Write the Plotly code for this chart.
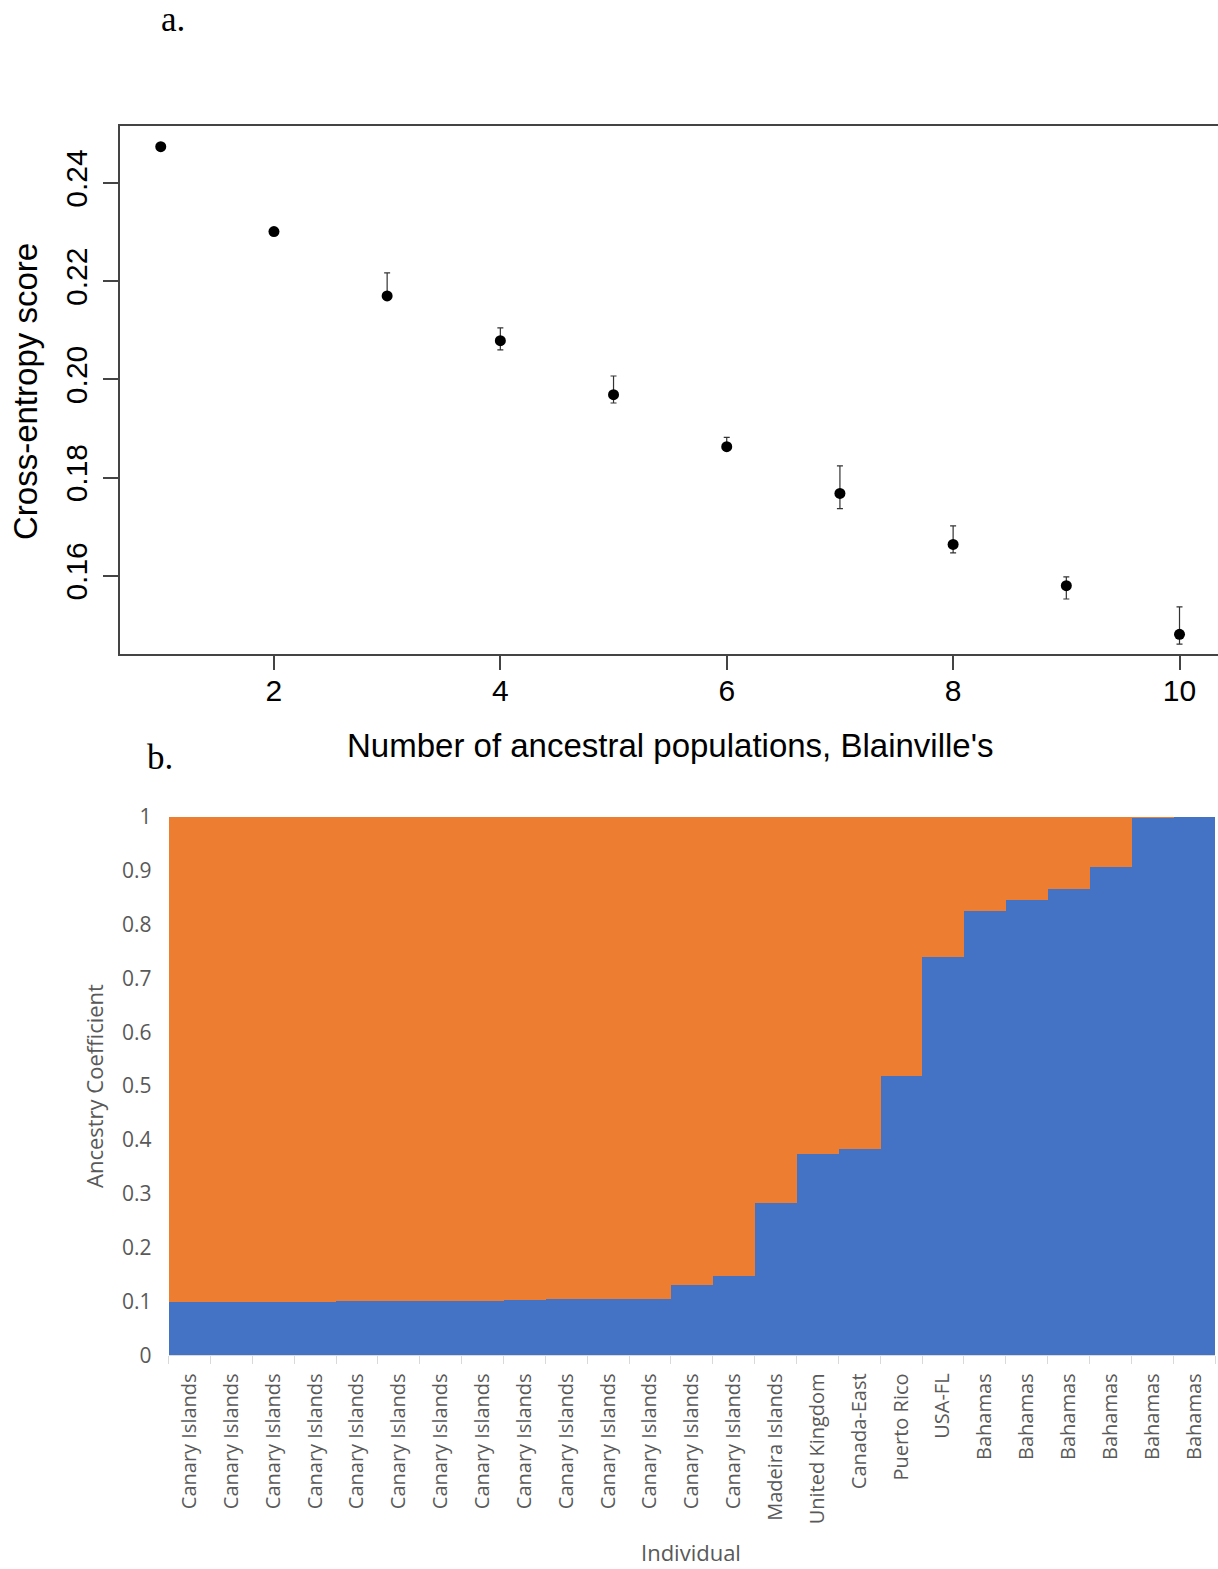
import plotly.graph_objects as go

# ---- Panel a: cross-entropy ----
k_values = [1, 2, 3, 4, 5, 6, 7, 8, 9, 10]
ce_mean = [0.2474, 0.2301, 0.2170, 0.2079, 0.1969, 0.1863, 0.1768, 0.1664, 0.1580, 0.1481]
ce_upper = [0.2474, 0.2301, 0.2217, 0.2105, 0.2007, 0.1882, 0.1824, 0.1702, 0.1598, 0.1537]
ce_lower = [0.2474, 0.2301, 0.2166, 0.2060, 0.1952, 0.1858, 0.1737, 0.1647, 0.1553, 0.1461]
y_ticks_a = [0.16, 0.18, 0.20, 0.22, 0.24]
x_ticks_a = [2, 4, 6, 8, 10]

# ---- Panel b: ancestry coefficients ----
individuals = ["Canary Islands"] * 14 + ["Madeira Islands", "United Kingdom", "Canada-East",
               "Puerto Rico", "USA-FL"] + ["Bahamas"] * 6
cluster_blue = [0.100, 0.100, 0.100, 0.100, 0.101, 0.102, 0.102, 0.102, 0.104, 0.106,
                0.106, 0.106, 0.131, 0.148, 0.284, 0.375, 0.383, 0.519, 0.740, 0.826,
                0.846, 0.866, 0.908, 0.999, 1.000]
cluster_orange = [0.900, 0.900, 0.900, 0.900, 0.899, 0.898, 0.898, 0.898, 0.896, 0.894,
                  0.894, 0.894, 0.869, 0.852, 0.716, 0.625, 0.617, 0.481, 0.260, 0.174,
                  0.154, 0.134, 0.092, 0.001, 0.000]
y_ticks_b = [0, 0.1, 0.2, 0.3, 0.4, 0.5, 0.6, 0.7, 0.8, 0.9, 1]
y_ticktext_b = ["0", "0.1", "0.2", "0.3", "0.4", "0.5", "0.6", "0.7", "0.8", "0.9", "1"]

W, H = 1218, 1569
positions = list(range(1, len(individuals) + 1))


def px(x, y):
    return x / W, (H - y) / H


fig = go.Figure()

fig.add_trace(go.Scatter(
    x=k_values, y=ce_mean, mode="markers",
    marker=dict(color="black", size=11),
    error_y=dict(type="data", symmetric=False,
                 array=[u - m for u, m in zip(ce_upper, ce_mean)],
                 arrayminus=[m - l for m, l in zip(ce_mean, ce_lower)],
                 color="#333333", thickness=1.2, width=3),
    xaxis="x", yaxis="y", showlegend=False, hoverinfo="skip"))

fig.add_trace(go.Bar(x=positions, y=cluster_blue, marker=dict(color="#4472C4", line=dict(width=0)),
                     xaxis="x2", yaxis="y2", showlegend=False))
fig.add_trace(go.Bar(x=positions, y=cluster_orange, marker=dict(color="#ED7D31", line=dict(width=0)),
                     xaxis="x2", yaxis="y2", showlegend=False))

top_font = dict(family="Liberation Sans, Arial, sans-serif", size=30, color="black")
grey = "#595959"

annots = []


def add_text(text, x, y, font, angle=0):
    fx, fy = px(x, y)
    annots.append(dict(text=text, x=fx, y=fy, xref="paper", yref="paper", showarrow=False,
                       textangle=angle, font=font, xanchor="center", yanchor="middle"))


serif = dict(family="Liberation Serif, Times New Roman, serif", size=35, color="black")
title_a = dict(family="Liberation Sans, Arial, sans-serif", size=33, color="black")
title_b = dict(family="Open Sans, sans-serif", size=22, color=grey)

add_text("a.", 173, 20, serif)
add_text("b.", 160, 757, serif)
add_text("Cross-entropy score", 25, 392, title_a, -90)
add_text("Number of ancestral populations, Blainville's", 670, 745, title_a)
add_text("Ancestry Coefficient", 94, 1086, title_b, -90)
add_text("Individual", 691, 1552, title_b)

fig.update_layout(
    width=W, height=H,
    margin=dict(l=0, r=0, t=0, b=0),
    paper_bgcolor="white", plot_bgcolor="white",
    barmode="stack", bargap=0,
    xaxis=dict(domain=[120 / W, 1.0], range=[0.64, 10.34], anchor="y",
               tickmode="array", tickvals=x_ticks_a, ticktext=[str(v) for v in x_ticks_a],
               ticks="outside", ticklen=14, tickwidth=1.5, tickcolor="#444444",
               showline=True, linecolor="#444444", linewidth=1.5, mirror=True,
               showgrid=False, zeroline=False, tickfont=top_font,
               ticklabelstandoff=-5, automargin=False),
    yaxis=dict(domain=[(H - 654) / H, (H - 126) / H], range=[0.1441, 0.2516], anchor="x",
               tickmode="array", tickvals=y_ticks_a, ticktext=["%.2f" % v for v in y_ticks_a],
               ticks="outside", ticklen=15, tickwidth=1.5, tickcolor="#444444",
               showline=True, linecolor="#444444", linewidth=1.5, mirror=False,
               showgrid=False, zeroline=False, tickfont=top_font, tickangle=-90,
               ticklabelstandoff=4, automargin=False),
    xaxis2=dict(domain=[168.6 / W, 1215 / W], range=[0.5, len(individuals) + 0.5], anchor="y2",
                tickmode="array", tickvals=positions, ticktext=individuals,
                tickangle=-90, ticks="", tickfont=dict(family="Open Sans, sans-serif", size=20, color=grey),
                minor=dict(tickmode="linear", tick0=0.5, dtick=1, ticks="outside",
                           ticklen=8, tickcolor="#D9D9D9", tickwidth=1, showgrid=False),
                showline=True, linecolor="#D9D9D9", linewidth=1,
                showgrid=False, zeroline=False, ticklabelstandoff=9, automargin=False),
    yaxis2=dict(domain=[(H - 1355.4) / H, (H - 816.8) / H], range=[0, 1], anchor="x2",
                tickmode="array", tickvals=y_ticks_b, ticktext=y_ticktext_b,
                ticks="", showline=False, showgrid=False, zeroline=False,
                tickfont=dict(family="Open Sans, sans-serif", size=21, color=grey),
                ticklabelstandoff=16, automargin=False),
    annotations=annots,
)

fig.write_html("out.html")
